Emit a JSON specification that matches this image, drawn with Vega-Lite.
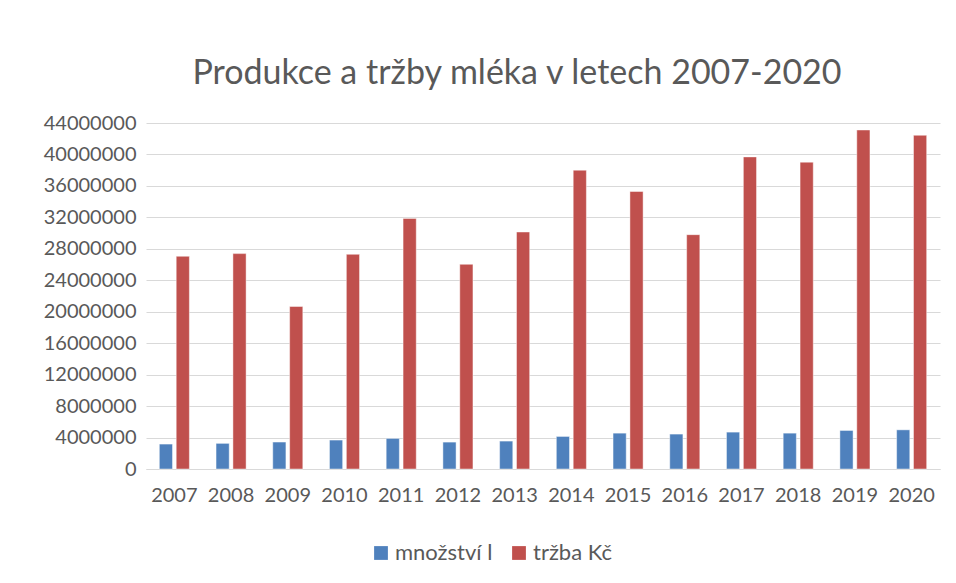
{
  "$schema": "https://vega.github.io/schema/vega-lite/v6.json",
  "autosize": {"type": "none"},
  "width": 794,
  "height": 346,
  "padding": {"left": 146, "top": 123, "right": 16, "bottom": 114},
  "background": "white",
  "config": {
    "view": {"stroke": null},
    "font": "Lato",
    "axis": {"labelFont": "Lato", "labelColor": "#595959", "labelFontSize": 20}
  },
  "title": {
    "text": "Produkce a tržby mléka v letech 2007-2020",
    "font": "Lato",
    "fontSize": 34,
    "fontWeight": "normal",
    "color": "#595959",
    "anchor": "middle",
    "frame": "group",
    "dx": -26,
    "offset": 22
  },
  "data": {
    "values": [
      {"rok": "2007", "serie": "množství l", "hodnota": 3170000},
      {"rok": "2008", "serie": "množství l", "hodnota": 3260000},
      {"rok": "2009", "serie": "množství l", "hodnota": 3420000},
      {"rok": "2010", "serie": "množství l", "hodnota": 3680000},
      {"rok": "2011", "serie": "množství l", "hodnota": 3890000},
      {"rok": "2012", "serie": "množství l", "hodnota": 3420000},
      {"rok": "2013", "serie": "množství l", "hodnota": 3550000},
      {"rok": "2014", "serie": "množství l", "hodnota": 4140000},
      {"rok": "2015", "serie": "množství l", "hodnota": 4560000},
      {"rok": "2016", "serie": "množství l", "hodnota": 4440000},
      {"rok": "2017", "serie": "množství l", "hodnota": 4690000},
      {"rok": "2018", "serie": "množství l", "hodnota": 4560000},
      {"rok": "2019", "serie": "množství l", "hodnota": 4900000},
      {"rok": "2020", "serie": "množství l", "hodnota": 4980000},
      {"rok": "2007", "serie": "tržba Kč", "hodnota": 27050000},
      {"rok": "2008", "serie": "tržba Kč", "hodnota": 27390000},
      {"rok": "2009", "serie": "tržba Kč", "hodnota": 20670000},
      {"rok": "2010", "serie": "tržba Kč", "hodnota": 27300000},
      {"rok": "2011", "serie": "tržba Kč", "hodnota": 31870000},
      {"rok": "2012", "serie": "tržba Kč", "hodnota": 26030000},
      {"rok": "2013", "serie": "tržba Kč", "hodnota": 30140000},
      {"rok": "2014", "serie": "tržba Kč", "hodnota": 38000000},
      {"rok": "2015", "serie": "tržba Kč", "hodnota": 35290000},
      {"rok": "2016", "serie": "tržba Kč", "hodnota": 29800000},
      {"rok": "2017", "serie": "tržba Kč", "hodnota": 39690000},
      {"rok": "2018", "serie": "tržba Kč", "hodnota": 39020000},
      {"rok": "2019", "serie": "tržba Kč", "hodnota": 43110000},
      {"rok": "2020", "serie": "tržba Kč", "hodnota": 42440000}
    ]
  },
  "mark": {"type": "bar", "stroke": "white", "strokeOpacity": 0.45, "strokeWidth": 1},
  "encoding": {
    "x": {
      "field": "rok",
      "type": "nominal",
      "scale": {"paddingInner": 0.47, "paddingOuter": 0.235},
      "axis": {
        "title": null,
        "labelAngle": 0,
        "ticks": false,
        "labelPadding": 16,
        "domainColor": "#d9d9d9",
        "domainWidth": 1
      }
    },
    "xOffset": {
      "field": "serie",
      "type": "nominal",
      "scale": {"paddingInner": 0.22, "paddingOuter": 0}
    },
    "y": {
      "field": "hodnota",
      "type": "quantitative",
      "scale": {"domain": [0, 44000000], "nice": false},
      "axis": {
        "title": null,
        "values": [0, 4000000, 8000000, 12000000, 16000000, 20000000, 24000000, 28000000, 32000000, 36000000, 40000000, 44000000],
        "format": "d",
        "domain": false,
        "ticks": false,
        "labelPadding": 10,
        "gridColor": "#d9d9d9",
        "gridWidth": 1
      }
    },
    "color": {
      "field": "serie",
      "type": "nominal",
      "scale": {"domain": ["množství l", "tržba Kč"], "range": ["#4F81BD", "#C0504D"]},
      "legend": {
        "title": null,
        "orient": "none",
        "direction": "horizontal",
        "legendX": 224,
        "legendY": 419,
        "symbolType": "square",
        "symbolSize": 190,
        "symbolStrokeWidth": 0,
        "labelFontSize": 22,
        "labelColor": "#595959",
        "labelFont": "Lato",
        "columnPadding": 15,
        "labelOffset": 3
      }
    }
  }
}
